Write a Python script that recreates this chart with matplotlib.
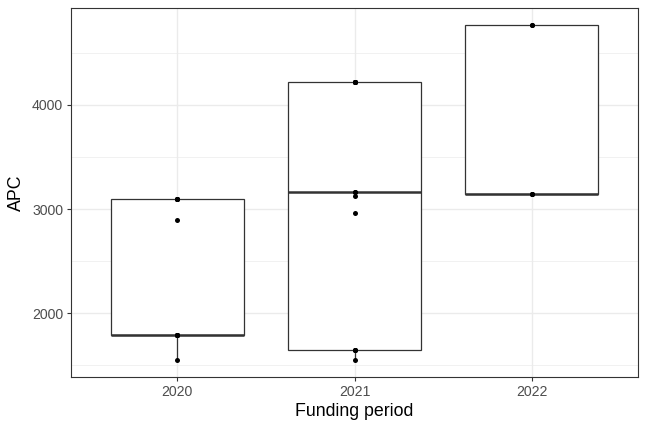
import matplotlib
matplotlib.use("Agg")
import matplotlib.pyplot as plt
import numpy as np

# APC values per funding period
periods = ["2020", "2021", "2022"]
apc_2020 = [1550, 1790, 1790, 1790, 1790, 1790, 2900, 3100, 3100, 3100, 3100]
apc_2021 = [1550, 1650, 1650, 1650, 2960, 3130, 3165, 3165, 4220, 4220, 4220, 4220, 4220]
apc_2022 = [3150, 3150, 3150, 4770, 4770]
data = [apc_2020, apc_2021, apc_2022]

plt.rcParams['font.family'] = ['Liberation Sans', 'DejaVu Sans']

fig = plt.figure(figsize=(6.48, 4.32), dpi=100)
ax = fig.add_axes([71 / 648, 1 - 377 / 432, (638 - 71) / 648, (377 - 8) / 432])

pos = np.arange(1, len(periods) + 1)
ax.boxplot(data, positions=pos, widths=0.75, whis=1.5, showfliers=False,
           patch_artist=True, showcaps=False,
           boxprops=dict(facecolor="white", edgecolor="#333333", linewidth=0.9),
           whiskerprops=dict(color="#333333", linewidth=0.9),
           medianprops=dict(color="#333333", linewidth=1.8),
           zorder=2)

for p, vals in zip(pos, data):
    ax.plot([p] * len(vals), vals, "o", color="black", markersize=3.6,
            markeredgewidth=0, zorder=3)

# ggplot-like limits
allv = np.concatenate([np.array(d) for d in data])
rng = allv.max() - allv.min()
ax.set_ylim(allv.min() - 0.05 * rng, allv.max() + 0.05 * rng)
ax.set_xlim(0.4, 3.6)

ax.set_xticks(pos)
ax.set_xticklabels(periods)
ax.set_yticks([2000, 3000, 4000])
ax.set_yticks([1500, 2500, 3500, 4500], minor=True)

ax.grid(True, which="major", color="#EBEBEB", linewidth=1.0, zorder=0)
ax.grid(True, which="minor", axis="y", color="#EBEBEB", linewidth=0.5, zorder=0)
ax.set_axisbelow(True)
ax.tick_params(which="minor", length=0)
ax.tick_params(which="major", length=3.2, color="#333333", width=0.8,
               labelsize=10.2, labelcolor="#4D4D4D", pad=2.5)

for s in ax.spines.values():
    s.set_color("#333333")
    s.set_linewidth(0.8)

ax.set_xlabel("Funding period", fontsize=12.8, labelpad=3)
ax.set_ylabel("APC", fontsize=12.8, labelpad=5)

plt.savefig("out.png", dpi=100)
